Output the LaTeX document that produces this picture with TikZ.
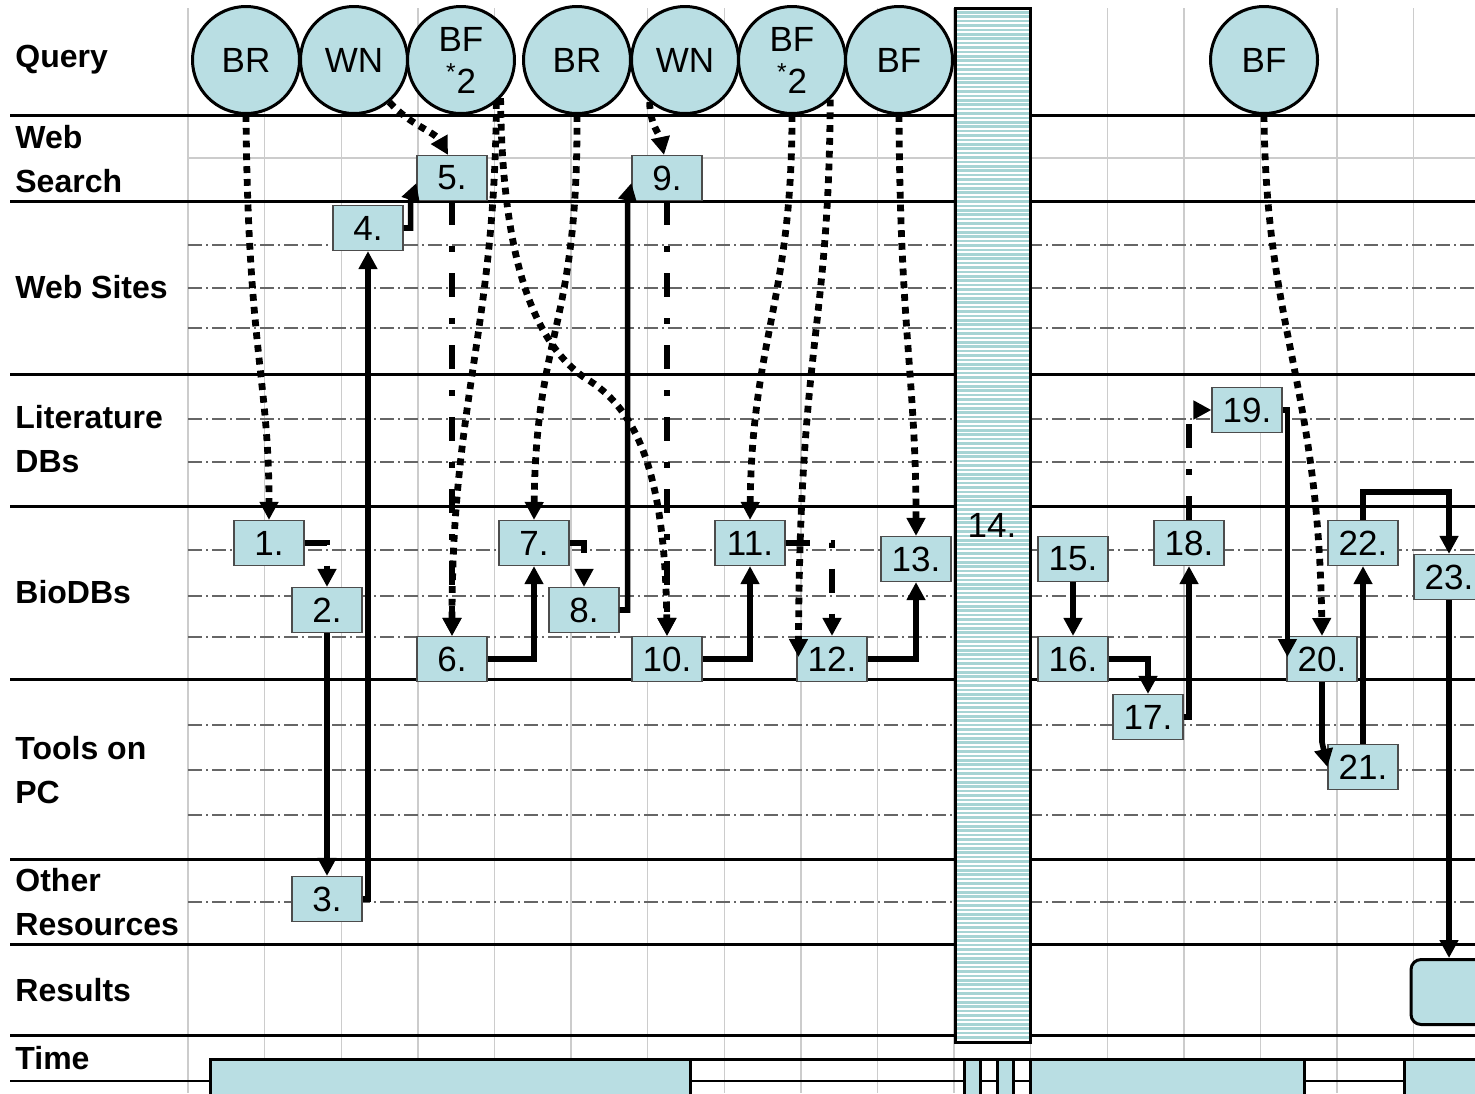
\documentclass[tikz,border=0pt]{standalone}
\usepackage{fontspec}
\setmainfont{Liberation Sans}
\usetikzlibrary{arrows.meta,calc}
\definecolor{qblue}{RGB}{185,222,227}
\definecolor{stripe}{RGB}{166,212,212}
\tikzset{
  lane/.style={line width=1.5pt},
  sublane/.style={black!60, line width=0.6pt, dash pattern=on 7pt off 2pt on 1pt off 2pt},
  gridline/.style={black!20, line width=0.7pt},
  lanelabel/.style={anchor=west, align=left, inner sep=0pt, font=\fontsize{16}{22}\selectfont\bfseries},
  query/.style={circle, draw, line width=1.5pt, fill=qblue, minimum size=53.5pt, inner sep=0pt, align=center, font=\fontsize{17.5}{21}\selectfont},
  stepbox/.style={draw=black!70, line width=0.6pt, fill=qblue, minimum width=35pt, minimum height=22.5pt, inner sep=0pt, font=\fontsize{17.5}{17.5}\selectfont},
  timebar/.style={draw, line width=1.5pt, fill=qblue},
  flowtip/.style={-{Triangle[width=9pt,length=9pt]}},
  dotflow/.style={flowtip, line width=3.4pt, dash pattern=on 3.4pt off 3pt},
  dataflow/.style={flowtip, line width=2.8pt},
  dashflow/.style={flowtip, line width=3.2pt, dash pattern=on 12pt off 10.5pt on 3pt off 10.5pt},
}
\begin{document}
\begin{tikzpicture}[x=0.5pt,y=-0.5pt]
\useasboundingbox (0,0) rectangle (1475,1093);
% grid and lanes
\foreach \k in {0,...,16} \draw[gridline] (188+76.6*\k,8) -- (188+76.6*\k,1093);
\draw[gridline] (188,158) -- (1475,158);
\foreach \y in {245,288,328,419,462,550,596,637,725,770,815,902} \draw[sublane] (188,\y) -- (1475,\y);
\foreach \y in {115,201,374,506,679,859,944,1035} \draw[lane] (10,\y) -- (1475,\y);
% time row
\draw[line width=1.2pt] (10,1081) -- (1475,1081);
\draw[lane] (210,1059) -- (1475,1059);
\foreach \a/\b in {210/690,964/980,997/1013,1030/1304,1404/1500} \draw[timebar] (\a,1059) rectangle (\b,1100);
% lane labels
\node[lanelabel] (lquery) at (15,60) {Query};
\node[lanelabel] (lsearch) at (15,159) {Web\\Search};
\node[lanelabel] (lsites) at (15,287) {Web Sites};
\node[lanelabel] (llit) at (15,439) {Literature\\DBs};
\node[lanelabel] (lbio) at (15,592) {BioDBs};
\node[lanelabel] (ltools) at (15,770) {Tools on\\PC};
\node[lanelabel] (lother) at (15,902) {Other\\Resources};
\node[lanelabel] (lres) at (15,990) {Results};
\node[lanelabel] (ltime) at (15,1058) {Time};
% queries
\node[query] (q1) at (246,60) {BR};
\node[query] (q2) at (354,60) {WN};
\node[query] (q3) at (461,60) {BF\\\textsuperscript{*}2};
\node[query] (q4) at (577,60) {BR};
\node[query] (q5) at (685,60) {WN};
\node[query] (q6) at (792,60) {BF\\\textsuperscript{*}2};
\node[query] (q7) at (899,60) {BF};
\node[query] (q8) at (1264,60) {BF};
% step 14
\fill[stripe] (955,8) rectangle (1030,1042);
\foreach \y in {10,14.4,...,1040} \draw[white, line width=0.9pt] (956,\y) -- (1029,\y);
\draw[lane] (955,8) rectangle (1030,1042);
\node[font=\fontsize{17.5}{17.5}\selectfont] (b14) at (992,525) {14.};
% steps
\node[stepbox] (b1) at (269,543) {1.};
\node[stepbox] (b2) at (327,610) {2.};
\node[stepbox] (b3) at (327,899) {3.};
\node[stepbox] (b4) at (368,228) {4.};
\node[stepbox] (b5) at (452,178) {5.};
\node[stepbox] (b6) at (452,659) {6.};
\node[stepbox] (b7) at (534,543) {7.};
\node[stepbox] (b8) at (584,610) {8.};
\node[stepbox] (b9) at (667,178) {9.};
\node[stepbox] (b10) at (667,659) {10.};
\node[stepbox] (b11) at (750,543) {11.};
\node[stepbox] (b12) at (832,659) {12.};
\node[stepbox] (b13) at (916,559) {13.};
\node[stepbox] (b15) at (1073,559) {15.};
\node[stepbox] (b16) at (1073,659) {16.};
\node[stepbox] (b17) at (1148,717) {17.};
\node[stepbox] (b18) at (1189,543) {18.};
\node[stepbox] (b19) at (1247,410) {19.};
\node[stepbox] (b20) at (1322,659) {20.};
\node[stepbox] (b21) at (1363,767) {21.};
\node[stepbox] (b22) at (1363,543) {22.};
\node[stepbox] (b23) at (1449,577) {23.};
\node[draw, line width=1.5pt, fill=qblue, rounded corners=5pt, minimum width=45pt, minimum height=32.5pt] (res) at (1456,992) {};
% query flows
\draw[dotflow] (q1.south) .. controls (248,350) and (269,380) .. (b1.north);
\draw[dotflow] (q2.-50) .. controls (410,125) and (435,132) .. ($(b5.north)+(-4,0)$);
\draw[dotflow] (q3.-50) .. controls (495,330) and (452,400) .. (b6.north);
\draw[dotflow] (q3.-44) .. controls (502,250) and (530,340) .. (585,378) .. controls (640,410) and (665,480) .. (b10.north);
\draw[dotflow] (q4.south) .. controls (578,330) and (536,330) .. (b7.north);
\draw[dotflow] (q5.-130) .. controls (650,125) and (660,135) .. ($(b9.north)+(-3,0)$);
\draw[dotflow] (q6.south) .. controls (792,300) and (752,340) .. (b11.north);
\draw[dotflow] (q6.-46) .. controls (829,330) and (800,340) .. ($(b12.west)+(2,-2)$);
\draw[dotflow] (q7.south) .. controls (900,330) and (916,380) .. (b13.north);
\draw[dotflow] (q8.south) .. controls (1266,330) and (1318,380) .. (b20.north);
% dash-dot flows
\draw[dashflow] (b1.east) -| (b2.north);
\draw[dashflow] (b5.south) -- (b6.north);
\draw[dashflow] (b7.east) -| (b8.north);
\draw[dashflow] (b9.south) -- (b10.north);
\draw[dashflow] (b11.east) -| (b12.north);
\draw[dashflow] (b18.north) |- (b19.west);
% data flows
\draw[dataflow] (b2.south) -- (b3.north);
\draw[dataflow] (b3.east) -| (b4.south);
\draw[dataflow] (b4.east) -- ++(7,0) -- ++(0,-28) -- ($(b5.west)+(0,5)$);
\draw[dataflow] (b6.east) -| (b7.south);
\draw[dataflow] (b8.east) -- ++(8,0) -- ++(0,-410) -- ($(b9.west)+(0,5)$);
\draw[dataflow] (b10.east) -| (b11.south);
\draw[dataflow] (b12.east) -| (b13.south);
\draw[dataflow] (b15) -- (b16);
\draw[dataflow] (b16.east) -| (b17.north);
\draw[dataflow] (b17.east) -| (b18.south);
\draw[dataflow] (b19.east) -| ($(b20.west)+(1,-2)$);
\draw[dataflow] (b20.south) -- ++(0,60) -- (b21.west);
\draw[dataflow] (b21.north) -- (b22.south);
\draw[dataflow] (b22.north) -- ++(0,-28) -| (b23.north);
\draw[dataflow] (b23.south) -- (b23.south |- res.north);
\end{tikzpicture}
\end{document}
